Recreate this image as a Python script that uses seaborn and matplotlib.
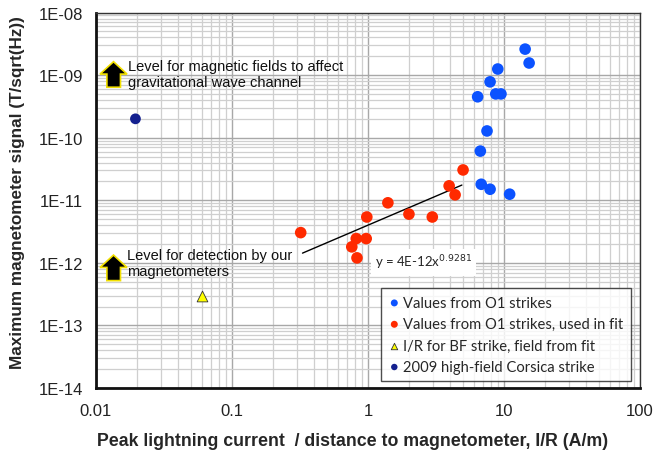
import numpy as np
import pandas as pd
import matplotlib
matplotlib.use("Agg")
import matplotlib.pyplot as plt
import seaborn as sns
from matplotlib.patches import Polygon
from matplotlib.ticker import FixedLocator, FixedFormatter, LogLocator, NullFormatter

# ---------------- data ----------------
o1_x = [14.3, 15.3, 9.0, 7.9, 6.4, 8.7, 9.5, 7.5, 6.7, 6.8, 7.9, 11.0]
o1_y = [2.6e-9, 1.56e-9, 1.25e-9, 7.8e-10, 4.5e-10, 5.0e-10, 5.0e-10,
        1.28e-10, 6.1e-11, 1.8e-11, 1.5e-11, 1.25e-11]

fit_pts_x = [0.32, 0.76, 0.82, 0.83, 0.97, 0.98, 1.4, 2.0, 2.97, 3.95, 4.37, 5.0]
fit_pts_y = [3.04e-12, 1.8e-12, 2.44e-12, 1.2e-12, 2.44e-12, 5.4e-12,
             9.1e-12, 6.0e-12, 5.4e-12, 1.7e-11, 1.22e-11, 3.05e-11]

bf_x = [0.06]
bf_y = [3.0e-13]

corsica_x = [0.0195]
corsica_y = [2.0e-10]

fit_coef = 4e-12
fit_exp = 0.9281
fit_range = [0.33, 4.9]

x_ticks = [0.01, 0.1, 1, 10, 100]
x_tick_labels = ["0.01", "0.1", "1", "10", "100"]
y_ticks = [1e-14, 1e-13, 1e-12, 1e-11, 1e-10, 1e-9, 1e-8]
y_tick_labels = ["1E-14", "1E-13", "1E-12", "1E-11", "1E-10", "1E-09", "1E-08"]

series_labels = ["Values from O1 strikes",
                 "Values from O1 strikes, used in fit",
                 "I/R for BF strike, field from fit",
                 "2009 high-field Corsica strike"]

# ---------------- style ----------------
sns.set_theme(style="white")
plt.rcParams['font.family'] = ['Liberation Sans', 'DejaVu Sans']

fig = plt.figure(figsize=(6.54, 4.64), dpi=100)
ax = fig.add_axes([96/654, 1-389/464, 544/654, 375.5/464])
ax.set_xscale('log')
ax.set_yscale('log')
ax.set_xlim(0.01, 100)
ax.set_ylim(1e-14, 1e-8)

ax.xaxis.set_major_locator(FixedLocator(x_ticks))
ax.xaxis.set_major_formatter(FixedFormatter(x_tick_labels))
ax.yaxis.set_major_locator(FixedLocator(y_ticks))
ax.yaxis.set_major_formatter(FixedFormatter(y_tick_labels))
ax.xaxis.set_minor_locator(LogLocator(base=10, subs=np.arange(2, 10), numticks=20))
ax.yaxis.set_minor_locator(LogLocator(base=10, subs=np.arange(2, 10), numticks=20))
ax.xaxis.set_minor_formatter(NullFormatter())
ax.yaxis.set_minor_formatter(NullFormatter())

ax.grid(True, which='major', color='#a8a8a8', lw=1.0)
ax.grid(True, which='minor', color='#cfcfcf', lw=0.9)
ax.set_axisbelow(True)

ax.tick_params(axis='both', which='major', direction='out', length=7.5, width=1,
               color='#555555', labelsize=12, labelcolor='#222222', pad=2)
ax.tick_params(axis='x', which='major', length=6, pad=5)
ax.tick_params(axis='both', which='minor', length=0)
for s in ax.spines.values():
    s.set_color('#333333')
    s.set_linewidth(1.0)
ax.spines['left'].set_linewidth(2.0)
ax.spines['left'].set_color('#111111')
ax.spines['bottom'].set_linewidth(2.0)
ax.spines['bottom'].set_color('#111111')

# ---------------- marks ----------------
c_blue = '#0b52ff'
c_red = '#ff2a00'
c_navy = '#14208f'

sns.scatterplot(x=o1_x, y=o1_y, ax=ax, color=c_blue, s=70, edgecolor='none',
                label=series_labels[0], zorder=3)
sns.scatterplot(x=fit_pts_x, y=fit_pts_y, ax=ax, color=c_red, s=70, edgecolor='none',
                label=series_labels[1], zorder=3)
sns.scatterplot(x=bf_x, y=bf_y, ax=ax, color='#ffff00', marker='^', s=60,
                edgecolor='#333333', linewidth=0.6, label=series_labels[2], zorder=3)
sns.scatterplot(x=corsica_x, y=corsica_y, ax=ax, color=c_navy, s=60, edgecolor='none',
                label=series_labels[3], zorder=3)

fx = np.array(fit_range)
fy = fit_coef * fx ** fit_exp
sns.lineplot(x=fx, y=fy, ax=ax, color='black', lw=1.0, zorder=2, legend=False)

ax.text(1.13, 1.03e-12, "y = 4E-12x$^{0.9281}$", fontsize=9.5, va='center', ha='left',
        family=['Lato', 'DejaVu Sans'],
        bbox=dict(facecolor='white', edgecolor='none', pad=3), zorder=4)

# ---------------- arrows ----------------
def up_arrow(x0, x1, xs0, xs1, ytip, yhead, ybot):
    xm = (x0 + x1) / 2
    pts = [(xm, ytip), (x1, yhead), (xs1, yhead), (xs1, ybot),
           (xs0, ybot), (xs0, yhead), (x0, yhead)]
    ax.add_patch(Polygon(pts, closed=True, transform=ax.transAxes,
                         facecolor='black', edgecolor='#f2e000', lw=1.2, zorder=5))

up_arrow(0.0074, 0.057, 0.020, 0.045, 0.869, 0.836, 0.801)
up_arrow(0.0074, 0.057, 0.020, 0.045, 0.354, 0.321, 0.286)

ax.text(0.058, 0.836, "Level for magnetic fields to affect\ngravitational wave channel",
        transform=ax.transAxes, fontsize=10.5, va='center', ha='left',
        linespacing=1.2, color='#111111', zorder=5)
ax.text(0.057, 0.333, "Level for detection by our\nmagnetometers",
        transform=ax.transAxes, fontsize=10.5, va='center', ha='left',
        linespacing=1.2, color='#111111', zorder=5)

# ---------------- labels ----------------
ax.set_xlabel("Peak lightning current  / distance to magnetometer, I/R (A/m)",
              fontsize=12.8, fontweight='bold')
ax.set_ylabel("Maximum magnetometer signal (T/sqrt(Hz))",
              fontsize=12.3, fontweight='bold')
ax.xaxis.set_label_coords((353 - 96) / 544, -(442 - 389) / 375.5)
ax.yaxis.set_label_coords(-(96 - 18) / 544, (389 - 193) / 375.5)
ax.xaxis.label.set_va('center')
ax.yaxis.label.set_va('center')

leg = ax.legend(loc='lower right', bbox_to_anchor=(0.983, 0.018),
                prop={'family': ['Lato', 'DejaVu Sans'], 'size': 10.6},
                frameon=True, fancybox=False, edgecolor='#222222',
                markerscale=0.6, handletextpad=0.2, handlelength=0.8,
                labelspacing=0.5, borderpad=0.5, borderaxespad=0)
leg.get_frame().set_linewidth(1.0)
leg.set_zorder(6)

fig.savefig("out.png", dpi=100)
